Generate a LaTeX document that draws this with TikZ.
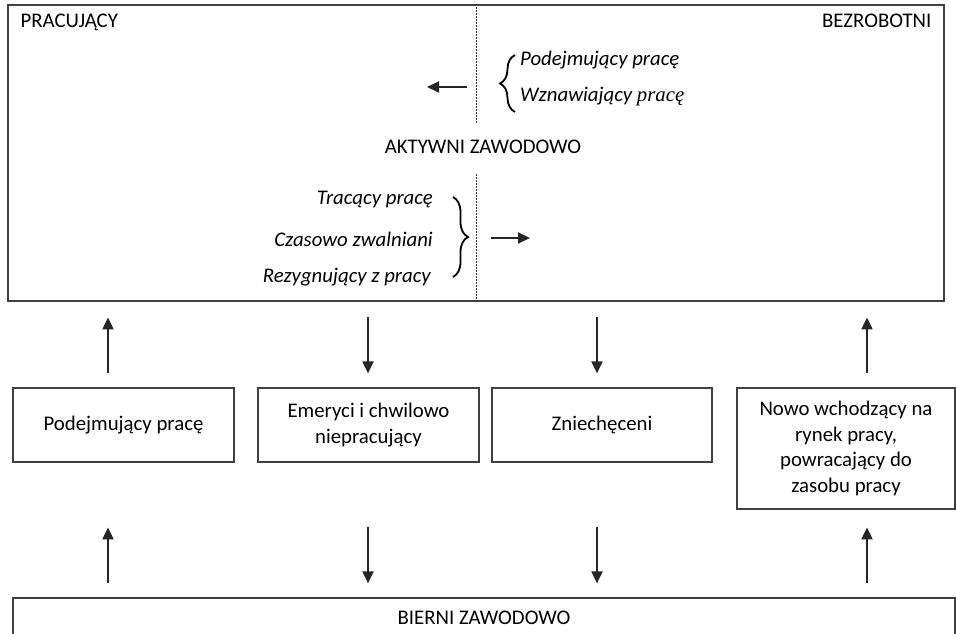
\documentclass[tikz,border=0pt]{standalone}
\usepackage{fontspec}
\setmainfont{Carlito}
\newfontfamily\serifit{Liberation Serif}
\usetikzlibrary{arrows.meta,decorations.pathreplacing,calc}

\begin{document}
\begin{tikzpicture}[x=1pt,y=1pt,
  font=\fontsize{20.8}{25.8}\selectfont,
  box/.style={draw=black!75, line width=1.2pt, align=center, inner sep=0pt},
  arr/.style={-{Triangle[length=12pt,width=11pt]}, line width=2pt, black!85},
  sep/.style={dash pattern=on 2pt off 1pt, line width=0.8pt, black!80},
  brc/.style={decorate, decoration={brace, amplitude=15pt}, line width=1.8pt},
  lbl/.style={inner sep=0pt, font=\fontsize{20.8}{25.8}\selectfont\itshape}]
\useasboundingbox (0,0) rectangle (956,633);
\node[box, minimum width=936pt, minimum height=296pt] (akt) at (476,480) {};
\node[anchor=north west, inner sep=0pt] (prac) at ([shift={(13,-9)}]akt.north west) {PRACUJĄCY};
\node[anchor=north east, inner sep=0pt] (bezr) at ([shift={(-13,-9)}]akt.north east) {BEZROBOTNI};
\node (aktw) at (483,486) {AKTYWNI ZAWODOWO};
\coordinate (d1) at (476,510);
\coordinate (d2) at (476,459);
\draw[sep] (akt.north) -- (d1);
\draw[sep] (d2) -- (akt.south);
% wejscia do bezrobocia i wyjscia
\node[lbl, anchor=west] (pdj) at (520,573) {Podejmujący pracę};
\node[lbl, anchor=west] (wzn) at (520,536) {Wznawiający {\serifit pracę}};
\draw[brc] (515,521) -- (515,578);
\coordinate (ua) at (467,546);
\coordinate (ub) at (427,546);
\draw[arr] (ua) -- (ub);
\node[lbl, anchor=east] (trc) at (433,433) {Tracący pracę};
\node[lbl, anchor=east] (czs) at (433,394) {Czasowo zwalniani};
\node[lbl, anchor=east] (rez) at (431,356) {Rezygnujący z pracy};
\draw[brc] (453,436) -- (453,356);
\coordinate (la) at (491,395);
\coordinate (lb) at (530,395);
\draw[arr] (la) -- (lb);
% przeplywy
\node[box, minimum width=221pt, minimum height=74pt] (pod) at (123.5,208) {Podejmujący pracę};
\node[box, minimum width=221pt, minimum height=74pt] (emer) at (368.5,208) {Emeryci i chwilowo\\niepracujący};
\node[box, minimum width=220pt, minimum height=74pt] (zn) at (602,208) {Zniechęceni};
\node[box, minimum width=218pt, minimum height=121pt] (nowo) at (846,184.5) {Nowo wchodzący na\\rynek pracy,\\powracający do\\zasobu pracy};
\node[box, minimum width=942pt, minimum height=40pt] (bier) at (484,15) {BIERNI ZAWODOWO};
\draw[arr] ([xshift=-15.5pt]pod.north) ++(0,14) -- ++(0,56);
\draw[arr] ([xshift=-0.5pt]emer.north) ++(0,70) -- ++(0,-56);
\draw[arr] ([xshift=-5pt]zn.north) ++(0,70) -- ++(0,-56);
\draw[arr] ([xshift=21pt]nowo.north) ++(0,14) -- ++(0,56);
\draw[arr] ([xshift=-15.5pt]pod.south |- bier.north) ++(0,14) -- ++(0,56);
\draw[arr] ([xshift=-0.5pt]emer.south |- bier.north) ++(0,70) -- ++(0,-56);
\draw[arr] ([xshift=-5pt]zn.south |- bier.north) ++(0,70) -- ++(0,-56);
\draw[arr] ([xshift=21pt]nowo.south |- bier.north) ++(0,14) -- ++(0,56);
\end{tikzpicture}
\end{document}
